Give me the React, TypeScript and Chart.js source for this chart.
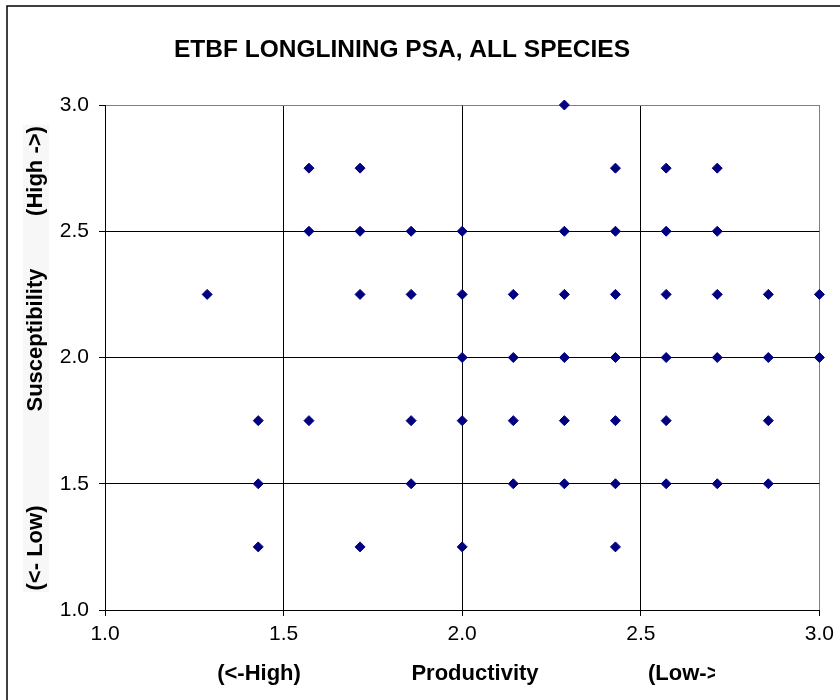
import { useEffect, useRef } from 'react'
import { Chart, registerables, type Plugin } from 'chart.js'

Chart.register(...registerables)

const TITLE = 'ETBF LONGLINING PSA, ALL SPECIES'
const X_TITLE_PARTS = ['(<-High)', 'Productivity', '(Low->']
const Y_TITLE_PARTS = ['(<- Low)', 'Susceptibility', '(High ->)']

// one entry per species, read row by row from the top of the plot
const PRODUCTIVITY = [
  2.286,
  1.571, 1.714, 2.429, 2.571, 2.714,
  1.571, 1.714, 1.857, 2.0, 2.286, 2.429, 2.571, 2.714,
  1.286, 1.714, 1.857, 2.0, 2.143, 2.286, 2.429, 2.571, 2.714, 2.857, 3.0,
  2.0, 2.143, 2.286, 2.429, 2.571, 2.714, 2.857, 3.0,
  1.429, 1.571, 1.857, 2.0, 2.143, 2.286, 2.429, 2.571, 2.857,
  1.429, 1.857, 2.143, 2.286, 2.429, 2.571, 2.714, 2.857,
  1.429, 1.714, 2.0, 2.429,
]
const SUSCEPTIBILITY = [
  3.0,
  2.75, 2.75, 2.75, 2.75, 2.75,
  2.5, 2.5, 2.5, 2.5, 2.5, 2.5, 2.5, 2.5,
  2.25, 2.25, 2.25, 2.25, 2.25, 2.25, 2.25, 2.25, 2.25, 2.25, 2.25,
  2.0, 2.0, 2.0, 2.0, 2.0, 2.0, 2.0, 2.0,
  1.75, 1.75, 1.75, 1.75, 1.75, 1.75, 1.75, 1.75, 1.75,
  1.5, 1.5, 1.5, 1.5, 1.5, 1.5, 1.5, 1.5,
  1.25, 1.25, 1.25, 1.25,
]

const FONT = '"Liberation Sans", Arial, sans-serif'

// titles, axis titles and the outer frame, drawn Excel-style
const decor: Plugin<'scatter'> = {
  id: 'decor',
  afterDraw(chart) {
    const { ctx } = chart
    ctx.save()
    ctx.strokeStyle = '#000'
    ctx.lineWidth = 1.5
    ctx.strokeRect(7, 6, 900, 800)

    ctx.fillStyle = '#000'
    ctx.textAlign = 'center'
    ctx.textBaseline = 'middle'
    ctx.font = `bold 24.5px ${FONT}`
    ctx.fillText(TITLE, 402, 50)

    ctx.font = `bold 22px ${FONT}`
    ctx.fillText(X_TITLE_PARTS[0], 259, 674)
    ctx.fillText(X_TITLE_PARTS[1], 475, 674)
    ctx.save()
    ctx.beginPath()
    ctx.rect(0, 0, 715, 700)
    ctx.clip()
    ctx.textAlign = 'left'
    ctx.fillText(X_TITLE_PARTS[2], 648, 674)
    ctx.restore()

    ctx.fillStyle = '#f7f7f7'
    ctx.fillRect(23, 125, 26, 467)
    ctx.fillStyle = '#000'
    const ys = [548, 340, 171]
    Y_TITLE_PARTS.forEach((t, i) => {
      ctx.save()
      ctx.translate(36, ys[i])
      ctx.rotate(-Math.PI / 2)
      ctx.fillText(t, 0, 0)
      ctx.restore()
    })
    ctx.restore()
  },
}

export default function App() {
  const ref = useRef<HTMLCanvasElement>(null)
  const chart = useRef<Chart | null>(null)

  useEffect(() => {
    if (!ref.current) return
    chart.current?.destroy()
    const tickFont = { family: FONT, size: 21 }
    chart.current = new Chart(ref.current, {
      type: 'scatter',
      data: {
        datasets: [
          {
            data: PRODUCTIVITY.map((x, i) => ({ x, y: SUSCEPTIBILITY[i] })),
            backgroundColor: '#000080',
            borderColor: '#000080',
            borderWidth: 1,
            pointStyle: 'rectRot',
            pointRadius: 5,
            clip: false,
          },
        ],
      },
      options: {
        animation: false,
        responsive: false,
        devicePixelRatio: 1,
        layout: { padding: { top: 105, right: 20, left: 0, bottom: 0 } },
        plugins: { legend: { display: false }, tooltip: { enabled: false } },
        scales: {
          x: {
            min: 1,
            max: 3,
            afterFit: (s) => {
              s.height = 90
            },
            ticks: { stepSize: 0.5, color: '#000', font: tickFont, padding: 6, callback: (v) => Number(v).toFixed(1) },
            grid: {
              color: (c) => (c.tick && c.tick.value === 3 ? '#808080' : '#000'),
              tickColor: '#000',
              tickLength: 6,
              lineWidth: 1,
            },
            border: { color: '#000', width: 1 },
          },
          y: {
            min: 1,
            max: 3,
            afterFit: (s) => {
              s.width = 105
            },
            ticks: { stepSize: 0.5, color: '#000', font: tickFont, padding: 10, callback: (v) => Number(v).toFixed(1) },
            grid: {
              color: (c) => (c.tick && c.tick.value === 3 ? '#808080' : '#000'),
              tickColor: '#000',
              tickLength: 6,
              lineWidth: 1,
            },
            border: { color: '#000', width: 1 },
          },
        },
      },
      plugins: [decor],
    })
    return () => {
      chart.current?.destroy()
      chart.current = null
    }
  }, [])

  return (
    <div style={{ position: 'absolute', left: 0, top: 0, width: 840, height: 700, background: '#fff' }}>
      <canvas ref={ref} width={840} height={700} />
    </div>
  )
}
